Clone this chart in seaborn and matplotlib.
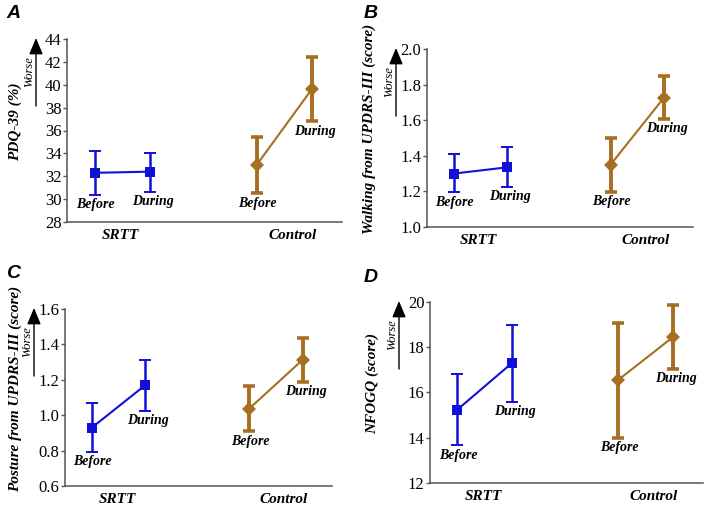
import numpy as np
import pandas as pd
import seaborn as sns
import matplotlib.pyplot as plt
from matplotlib.transforms import ScaledTranslation

sns.set_style("ticks")
plt.rcParams['font.family'] = ['Liberation Serif', 'DejaVu Serif']
plt.rcParams['text.color'] = 'black'
plt.rcParams['axes.labelcolor'] = 'black'

# ---- data (mean, lower end, upper end of error bar) ----
groups = ["SRTT", "SRTT", "Control", "Control"]
phases = ["Before", "During", "Before", "During"]

pdq_mean = [32.3, 32.4, 33.0, 39.6]
pdq_low = [30.4, 30.65, 30.5, 36.8]
pdq_high = [34.25, 34.05, 35.45, 42.4]

walk_mean = [1.30, 1.335, 1.35, 1.725]
walk_low = [1.195, 1.225, 1.198, 1.607]
walk_high = [1.408, 1.447, 1.500, 1.846]

post_mean = [0.929, 1.169, 1.037, 1.313]
post_low = [0.793, 1.025, 0.908, 1.189]
post_high = [1.070, 1.310, 1.164, 1.434]

nfogq_mean = [15.24, 17.3, 16.56, 18.45]
nfogq_low = [13.66, 15.6, 14.0, 17.05]
nfogq_high = [16.83, 19.0, 19.08, 19.86]

panels = [
    ("A", "PDQ-39 (%)", (28, 44), np.arange(28, 45, 2), "{:.0f}",
     pdq_mean, pdq_low, pdq_high),
    ("B", "Walking from UPDRS-III (score)", (1.0, 2.0), np.arange(1.0, 2.01, 0.2), "{:.1f}",
     walk_mean, walk_low, walk_high),
    ("C", "Posture from UPDRS-III (score)", (0.6, 1.6), np.arange(0.6, 1.61, 0.2), "{:.1f}",
     post_mean, post_low, post_high),
    ("D", "NFOGQ (score)", (12, 20), np.arange(12, 21, 2), "{:.0f}",
     nfogq_mean, nfogq_low, nfogq_high),
]

# ---- layout ----
W, H = 708, 505
boxes = {  # left, right, top, bottom in pixels
    "A": (67, 342, 39, 222),
    "B": (427, 693, 49, 227),
    "C": (65, 332, 309, 486),
    "D": (430, 703, 302, 483),
}
letter_pos = {"A": (6, 5), "B": (364, 5), "C": (6, 265), "D": (364, 269)}
ylabel_x = {"A": -52, "B": -58, "C": -50, "D": -58}

group_center = {"SRTT": 2.0, "Control": 7.9}
phase_offset = {"Before": -1.0, "During": 1.0}
tick_pos = [1.95, 8.2]

colors = {"SRTT": "#1010D8", "Control": "#A66F22"}
markers = {"SRTT": "s", "Control": "D"}
err_lw = {"SRTT": 1.8, "Control": 2.8}
cap_w = {"SRTT": 1.4, "Control": 2.6}
label_dx = {"Before": 1, "During": 3}

fig = plt.figure(figsize=(W / 100, H / 100), dpi=100)

for letter, ylab, ylim, yticks, fmt, mean, low, high in panels:
    l, r, t, b = boxes[letter]
    ax = fig.add_axes([l / W, 1 - b / H, (r - l) / W, (b - t) / H])

    df = pd.DataFrame({"group": groups, "phase": phases,
                       "mean": mean, "low": low, "high": high})
    df["x"] = [group_center[g] + phase_offset[p] for g, p in zip(df.group, df.phase)]

    for g, sub in df.groupby("group", sort=False):
        ax.errorbar(sub.x, sub["mean"],
                    yerr=[sub["mean"] - sub.low, sub.high - sub["mean"]],
                    fmt="none", ecolor=colors[g], elinewidth=err_lw[g],
                    capsize=4, capthick=cap_w[g], zorder=2)

    sns.lineplot(data=df, x="x", y="mean", hue="group", style="group",
                 palette=colors, markers=markers, dashes=False,
                 markersize=7, markeredgewidth=0, linewidth=1.5,
                 legend=False, ax=ax, zorder=3)

    for _, row in df.iterrows():
        ax.annotate(row.phase, xy=(row.x, row.low), xytext=(label_dx[row.phase], -10),
                    textcoords="offset pixels", ha="center", va="center",
                    fontsize=10, fontweight="bold", fontstyle="italic")

    ax.set_xlim(0, 10)
    ax.set_ylim(*ylim)
    ax.set_yticks(yticks)
    ax.set_yticklabels([fmt.format(v) for v in yticks])
    ax.set_xticks(tick_pos)
    ax.set_xticklabels(["SRTT", "Control"], fontsize=11,
                       fontweight="bold", fontstyle="italic")
    ax.set_xlabel("")
    ax.set_ylabel(ylab, fontsize=11, fontweight="bold", fontstyle="italic", va="center")
    ax.yaxis.set_label_coords(ylabel_x[letter] / (r - l), 0.55)

    ax.tick_params(axis="y", length=3, width=1, color="#555555", pad=1,
                   labelsize=12, labelcolor="black")
    ax.tick_params(axis="x", length=0, pad=5, labelcolor="black")
    for s in ["top", "right"]:
        ax.spines[s].set_visible(False)
    for s in ["left", "bottom"]:
        ax.spines[s].set_color("#555555")
        ax.spines[s].set_linewidth(1.1)

    # "Worse" arrow left of the y axis
    tip = ax.transAxes + ScaledTranslation(-31 / 100, 1 / 100, fig.dpi_scale_trans)
    base = ax.transAxes + ScaledTranslation(-31 / 100, -67 / 100, fig.dpi_scale_trans)
    ax.annotate("", xy=(0, 1), xycoords=tip, xytext=(0, 1), textcoords=base,
                arrowprops=dict(arrowstyle="-|>,head_width=0.42,head_length=1.0",
                                color="black", lw=1, shrinkA=0, shrinkB=0),
                annotation_clip=False)
    txt = ax.transAxes + ScaledTranslation(-38 / 100, -33 / 100, fig.dpi_scale_trans)
    ax.text(0, 1, "Worse", transform=txt, rotation=90, ha="center", va="center",
            fontsize=9, fontstyle="italic")

    lx, ly = letter_pos[letter]
    fig.text(lx / W, 1 - ly / H, letter, ha="left", va="top", fontsize=14,
             fontweight="bold", fontstyle="italic", family=["Liberation Sans"])

fig.savefig("out.png", dpi=100)
